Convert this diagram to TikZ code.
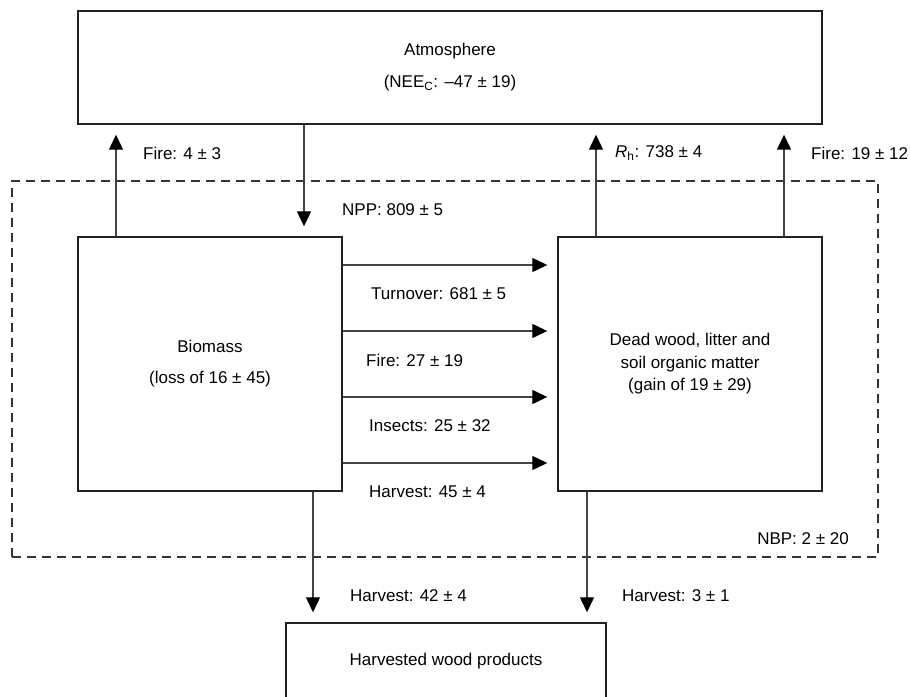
\documentclass[tikz,border=0pt]{standalone}
\usepackage{fontspec}
\setmainfont{Liberation Sans}
\usetikzlibrary{arrows.meta}
\newcommand\mainfs{\fontsize{17}{20}\selectfont}
\definecolor{boxgray}{HTML}{222222}
\definecolor{linegray}{HTML}{444444}
\definecolor{dashgray}{HTML}{333333}
\begin{document}
\begin{tikzpicture}[x=1pt,y=-1pt,
  box/.style={draw=boxgray, line width=1.4pt, inner sep=0pt, align=center, font=\mainfs},
  flow/.style={draw=linegray, line width=1.2pt, -{Triangle[length=15pt,width=14pt,color=black]}, shorten >=10pt},
  lbl/.style={font=\mainfs, inner sep=0pt, anchor=west},
  sysbox/.style={draw=dashgray, dash pattern=on 9pt off 6pt, line width=1.3pt, inner sep=0pt}]
\fill[white] (0,0) rectangle (910,696);
\useasboundingbox (0,0) rectangle (910,696);
\begin{scope}
\clip (0,0) rectangle (910,696);
% boxes
\node[box, minimum width=744pt, minimum height=113pt] (atm) at (450,67.5)
  {Atmosphere\\[12pt](NEE\textsubscript{C}: –47 ± 19)};
\node[sysbox, minimum width=866pt, minimum height=376pt] (sys) at (445,369) {};
\node[box, minimum width=264pt, minimum height=254pt] (bio) at (210,364)
  {Biomass\\[11pt](loss of 16 ± 45)};
\node[box, minimum width=264pt, minimum height=254pt] (dead) at (690,364)
  {Dead wood, litter and\\[2.5pt]soil organic matter\\[2.5pt](gain of 19 ± 29)};
\node[box, minimum width=320pt, minimum height=76pt] (hwp) at (446,661)
  {Harvested wood products};
% guide coordinates
\coordinate (c1) at (116,0);
\coordinate (c2) at (304,0);
\coordinate (c3) at (596,0);
\coordinate (c4) at (784,0);
\coordinate (c5) at (313,0);
\coordinate (c6) at (587,0);
\coordinate (r1) at (0,265);
\coordinate (r2) at (0,331);
\coordinate (r3) at (0,397);
\coordinate (r4) at (0,463);
% connectors
\draw[flow] (bio.north -| c1) -- (atm.south -| c1);
\draw[flow] (atm.south -| c2) -- (bio.north -| c2);
\draw[flow] (dead.north -| c3) -- (atm.south -| c3);
\draw[flow] (dead.north -| c4) -- (atm.south -| c4);
\draw[flow] (bio.east |- r1) -- (dead.west |- r1);
\draw[flow] (bio.east |- r2) -- (dead.west |- r2);
\draw[flow] (bio.east |- r3) -- (dead.west |- r3);
\draw[flow] (bio.east |- r4) -- (dead.west |- r4);
\draw[flow] (bio.south -| c5) -- (hwp.north -| c5);
\draw[flow] (dead.south -| c6) -- (hwp.north -| c6);
% labels
\node[lbl] (lfire1) at (143,153) {Fire: 4 ± 3};
\node[lbl] (lnpp) at (342,210) {NPP: 809 ± 5};
\node[lbl] (lrh) at (615,153) {\textit{R}\textsubscript{h}: 738 ± 4};
\node[lbl] (lfire2) at (811,153) {Fire: 19 ± 12};
\node[lbl] (lturn) at (371,294) {Turnover: 681 ± 5};
\node[lbl] (lfire3) at (366,360) {Fire: 27 ± 19};
\node[lbl] (lins) at (369,426) {Insects: 25 ± 32};
\node[lbl] (lharv1) at (369,492) {Harvest: 45 ± 4};
\node[lbl, anchor=east] (lnbp) at (849,539) {NBP: 2 ± 20};
\node[lbl] (lharv2) at (350,596) {Harvest: 42 ± 4};
\node[lbl] (lharv3) at (622,596) {Harvest: 3 ± 1};
\end{scope}
\end{tikzpicture}
\end{document}
